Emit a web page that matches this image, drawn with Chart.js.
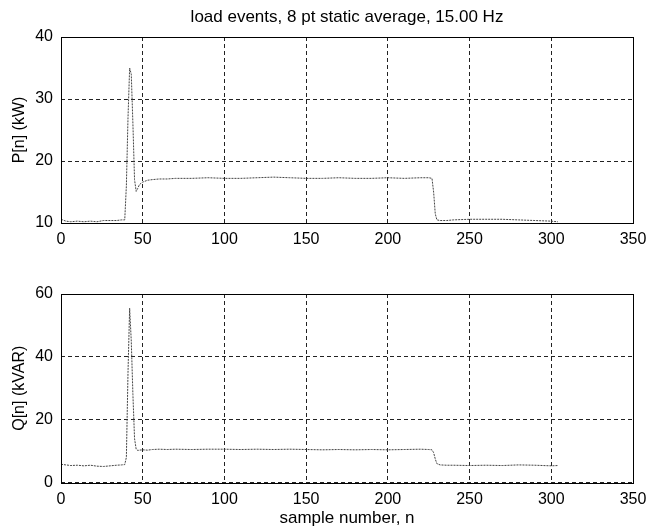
<!DOCTYPE html>
<html>
<head>
<meta charset="utf-8">
<script src="https://cdn.jsdelivr.net/npm/chart.js@4"></script>
<style>
  html, body { margin: 0; padding: 0; background: #fff; }
  #wrap { position: relative; width: 650px; height: 531px; }
  canvas { position: absolute; left: 0; }
  #c1 { top: 0; }
  #c2 { top: 265px; }
</style>
</head>
<body>
<div id="wrap">
  <canvas id="c1" width="650" height="265"></canvas>
  <canvas id="c2" width="650" height="266"></canvas>
</div>
<script>
// ---- data ----
const titleText = 'load events, 8 pt static average, 15.00 Hz';
const xLabel = 'sample number, n';
const pLabel = 'P[n] (kW)';
const qLabel = 'Q[n] (kVAR)';

const sampleN = [0,3,6,10,14,18,22,26,30,34,37,39,40,41,42,43,44,45,46,47,48,50,53,56,60,65,70,80,90,100,110,120,130,140,150,160,170,180,190,200,210,220,225,227,228,229,230,232,236,240,250,260,270,280,290,300,304];

const pValues = [10.6,10.3,10.2,10.3,10.2,10.3,10.2,10.4,10.4,10.4,10.5,10.5,16,27,35,34,26,17,15.1,15.6,16.2,16.6,16.9,17.0,17.1,17.1,17.2,17.2,17.3,17.2,17.2,17.3,17.4,17.3,17.2,17.2,17.3,17.2,17.2,17.3,17.2,17.3,17.3,17.2,15,11.5,10.5,10.4,10.4,10.5,10.6,10.6,10.6,10.5,10.4,10.3,10.2];

const qValues = [5.8,5.6,5.4,5.5,5.3,5.5,5.2,5.1,5.3,5.5,5.6,5.7,8,35,55.5,45,28,14,10.6,10.2,10.3,10.4,10.3,10.5,10.6,10.5,10.6,10.5,10.6,10.6,10.5,10.6,10.5,10.6,10.5,10.4,10.5,10.4,10.5,10.4,10.5,10.6,10.5,10.4,9.5,7.5,6,5.6,5.5,5.5,5.4,5.5,5.4,5.6,5.5,5.3,5.4];

const xTicks = [0,50,100,150,200,250,300,350];
const pTicks = [10,20,30,40];
const qTicks = [0,20,40,60];

// ---- drawing ----
const FONT = 'Liberation Sans, Arial, Helvetica, sans-serif';

const boxPlugin = {
  id: 'box',
  afterDraw(chart) {
    const a = chart.chartArea, ctx = chart.ctx;
    ctx.save();
    ctx.strokeStyle = '#000';
    ctx.lineWidth = 1;
    ctx.setLineDash([]);
    ctx.strokeRect(Math.round(a.left) + 0.5, Math.round(a.top) + 0.5,
                   Math.round(a.right - a.left), Math.round(a.bottom - a.top));
    ctx.restore();
  }
};

function makeChart(id, values, ticksY, yTitle, opts) {
  const pts = sampleN.map((n, i) => ({ x: n, y: values[i] }));
  return new Chart(document.getElementById(id), {
    type: 'line',
    data: {
      datasets: [{
        data: pts,
        borderColor: '#444',
        borderWidth: 1,
        borderDash: [2, 1],
        pointRadius: 0,
        tension: 0,
        fill: false
      }]
    },
    options: {
      responsive: false,
      animation: false,
      events: [],
      layout: { padding: { top: opts.padTop, right: 17, left: 0, bottom: 0 } },
      plugins: {
        legend: { display: false },
        tooltip: { enabled: false },
        title: opts.title ? {
          display: true,
          fullSize: false,
          text: opts.title,
          color: '#000',
          font: { family: FONT, size: 17, weight: 'normal' },
          padding: { top: 7.5, bottom: 9.1 }
        } : { display: false }
      },
      scales: {
        x: {
          type: 'linear',
          min: xTicks[0], max: xTicks[xTicks.length - 1],
          afterBuildTicks(s) { s.ticks = xTicks.map(v => ({ value: v })); },
          afterFit(s) { s.height = opts.xHeight; s.paddingLeft = 0; s.paddingRight = 0; },
          ticks: { color: '#000', font: { family: FONT, size: 16 }, padding: 7, maxRotation: 0 },
          grid: { color: '#222', lineWidth: 1, drawTicks: false },
          border: { display: false, dash: [4, 3] },
          title: opts.xTitle ? {
            display: true, text: opts.xTitle, color: '#000',
            font: { family: FONT, size: 17 }, padding: { top: 0, bottom: 2.3 }
          } : { display: false }
        },
        y: {
          type: 'linear',
          min: ticksY[0], max: ticksY[ticksY.length - 1],
          afterBuildTicks(s) { s.ticks = ticksY.map(v => ({ value: v })); },
          afterFit(s) { s.width = 61; s.paddingTop = 0; s.paddingBottom = 0; },
          ticks: { color: '#000', font: { family: FONT, size: 16 }, padding: 8 },
          grid: { color: '#222', lineWidth: 1, drawTicks: false },
          border: { display: false, dash: [4, 3] },
          title: {
            display: true, text: yTitle, color: '#000',
            font: { family: FONT, size: 16 }, padding: { top: 10, bottom: 0 }
          }
        }
      }
    },
    plugins: [boxPlugin]
  });
}

const c1 = makeChart('c1', pValues, pTicks, pLabel, { title: titleText, padTop: 0, xHeight: 42 });
const c2 = makeChart('c2', qValues, qTicks, qLabel, { xTitle: xLabel, padTop: 29, xHeight: 48.5 });
</script>
</body>
</html>
